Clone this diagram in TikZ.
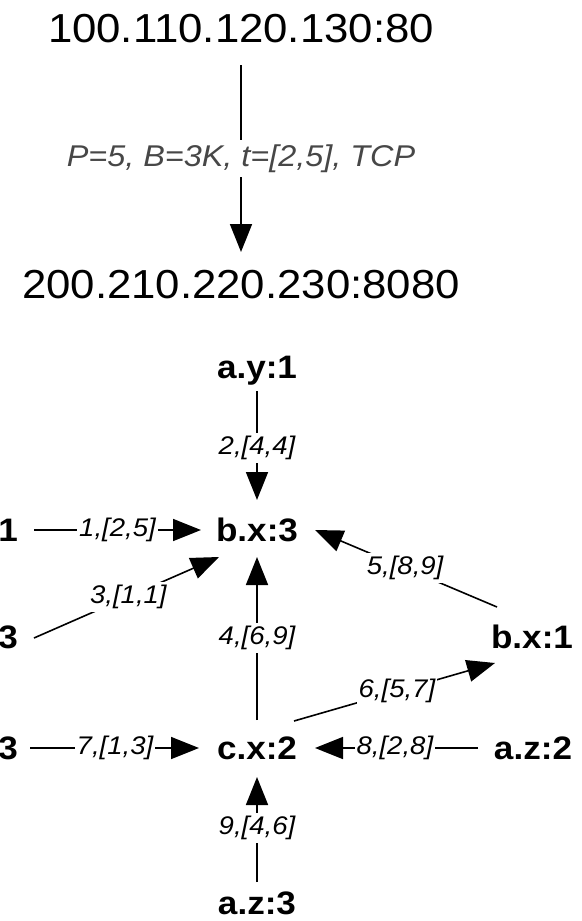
\documentclass[tikz,border=0pt]{standalone}
\usepackage{fontspec}
\setmainfont[FakeStretch=1.08]{Liberation Sans}
\usetikzlibrary{arrows.meta,calc}
\begin{document}
\begin{tikzpicture}[x=1pt,y=-1pt,
  addr/.style={font=\fontsize{40.5}{42}\selectfont, text height=29pt, text depth=0pt, inner sep=0pt},
  host/.style={font=\fontsize{32.5}{34}\selectfont\bfseries, text height=23.3pt, text depth=0pt, inner sep=0pt},
  lbl/.style={font=\fontsize{25.5}{27}\selectfont\itshape, fill=white, inner xsep=2pt, inner ysep=3pt},
  toplbl/.style={font=\fontsize{30}{32}\selectfont\itshape, text=black!72, fill=white, inner xsep=3pt, inner ysep=5pt},
  arr/.style={line width=1.6pt, -{Triangle[length=28pt,width=22pt]}},
]
\fill[white] (0,0) rectangle (581,921);
\useasboundingbox (0,0) rectangle (581,921);

% top part
\node[addr] (src) at (241,28) {100.110.120.130:80};
\node[addr] (dst) at (241,284) {200.210.220.230:8080};
\draw[arr] ($(src)+(0,37)$) -- node[toplbl,pos=0.5]{P=5, B=3K, t=[2,5], TCP} ($(dst)+(0,-32)$);

% bottom graph
\node[host] (ay) at (257,367) {a.y:1};
\node[host] (bx3) at (257,530) {b.x:3};
\node[host] (cx2) at (257,748) {c.x:2};
\node[host] (az3) at (257,903) {a.z:3};
\node[host] (bx1) at (532,637) {b.x:1};
\node[host] (az2) at (533,748) {a.z:2};
\node[host,anchor=east] (l1) at (18,530) {1};
\node[host,anchor=east] (l3a) at (18,637) {3};
\node[host,anchor=east] (l3b) at (18,748) {3};

\draw[arr] ($(ay)+(0,24)$) -- node[lbl,pos=0.52]{2,[4,4]} ($(bx3)+(0,-30)$);
\draw[arr] ($(l1.east)+(16,0)$) -- node[lbl,pos=0.5]{1,[2,5]} ($(bx3)+(-56,0)$);
\draw[arr] ($(l3a.east)+(16,1)$) -- node[lbl,pos=0.51]{3,[1,1]} ($(bx3)+(-38,27)$);
\draw[arr] ($(bx1)+(-35,-30)$) -- node[lbl,pos=0.505]{5,[8,9]} ($(bx3)+(58,0)$);
\draw[arr] ($(cx2)+(0,-28)$) -- node[lbl,pos=0.503]{4,[6,9]} ($(bx3)+(0,27)$);
\draw[arr] ($(cx2)+(37,-27)$) -- node[lbl,pos=0.512]{6,[5,7]} ($(bx1)+(-37,26)$);
\draw[arr] ($(l3b.east)+(12,0)$) -- node[lbl,pos=0.503]{7,[1,3]} ($(cx2)+(-58,0)$);
\draw[arr] ($(az2)+(-55,0)$) -- node[lbl,pos=0.51]{8,[2,8]} ($(cx2)+(58,0)$);
\draw[arr] ($(az3)+(0,-21)$) -- node[lbl,pos=0.514]{9,[4,6]} ($(cx2)+(0,29)$);
\end{tikzpicture}
\end{document}
